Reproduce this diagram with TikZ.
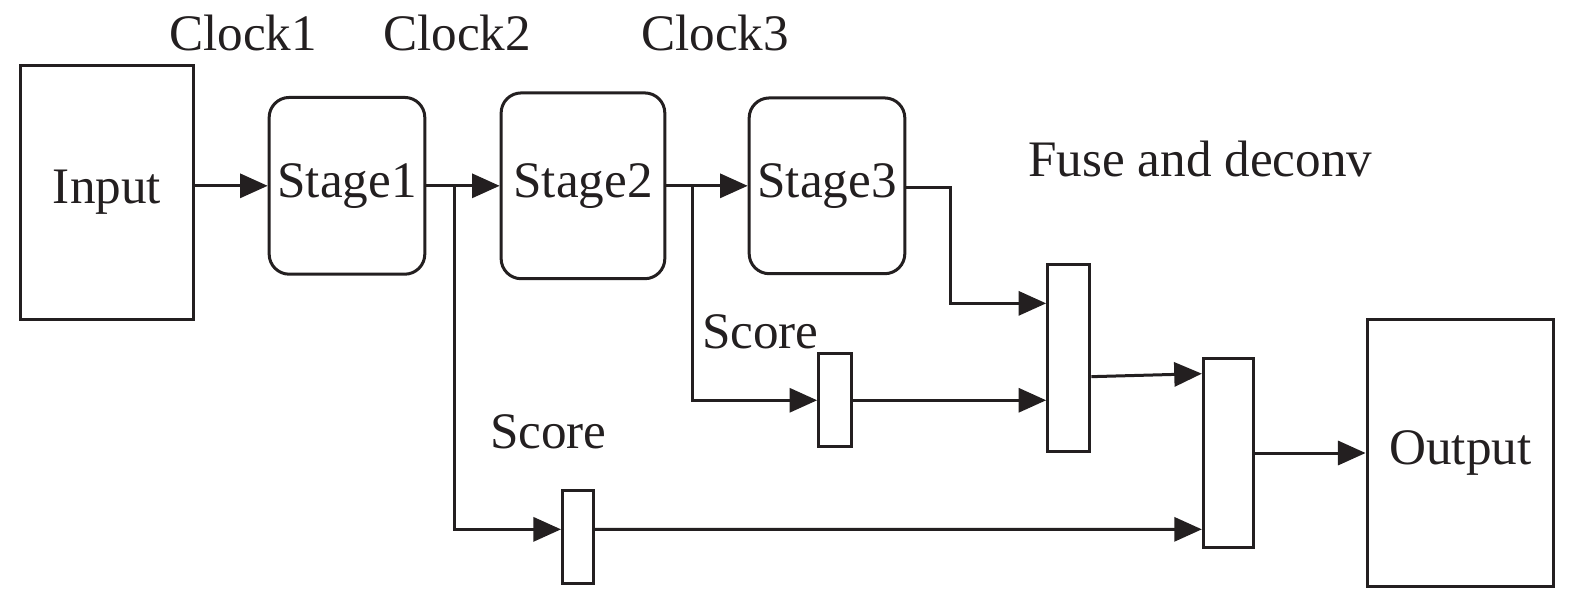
\documentclass[tikz,border=0pt]{standalone}
\usepackage{fontspec}
\setmainfont{Liberation Serif}
\usetikzlibrary{arrows.meta,positioning}
\definecolor{ink}{HTML}{231F20}

\begin{document}
\begin{tikzpicture}[
    x = 0.02cm, y = -0.02cm,
    node distance = 1.5cm,
    every node/.style = {font=\fontsize{29}{31}\selectfont, text=ink},
    block/.style = {
        rectangle,
        draw=ink,
        line width=1.7pt,
        inner sep=0pt
    },
    stagebox/.style = {
        block,
        rounded corners=0.4cm
    },
    arrow/.style = {
        -{Triangle[length=0.55cm,width=0.48cm]},
        draw=ink,
        line width=1.7pt
    }
]
\useasboundingbox (0,0) rectangle (1568,590);

\node[block, minimum width=3.46cm, minimum height=5.06cm] (input) at (106.5,191.5) {Input};
\node[stagebox, minimum width=3.1cm, minimum height=3.52cm, right=1.44cm of input, yshift=0.13cm] (stage1) {Stage1};
\node[stagebox, minimum width=3.26cm, minimum height=3.7cm, right=1.46cm of stage1] (stage2) {Stage2};
\node[stagebox, minimum width=3.1cm, minimum height=3.5cm, right=1.62cm of stage2] (stage3) {Stage3};

\node (clock1) at (242,33) {Clock1};
\node (clock2) at (455,33) {Clock2};
\node (clock3) at (712,33) {Clock3};
\node (fuselabel) at (1195,158) {Fuse and deconv};

% score branches
\node[block, minimum width=0.66cm, minimum height=1.86cm] (score2) at (831.5,398.5) {};
\node[block, minimum width=0.62cm, minimum height=1.86cm] (score1) at (575.5,534.5) {};
\node (scorelabel2) at (757,330) {Score};
\node (scorelabel1) at (546,430) {Score};

% fuse and output
\node[block, minimum width=0.84cm, minimum height=3.74cm] (fuse1) at (1064,356.5) {};
\node[block, minimum width=1.0cm, minimum height=3.76cm] (fuse2) at (1223,451) {};
\node[block, minimum width=3.72cm, minimum height=5.32cm] (output) at (1454,451) {Output};

\coordinate (tap1) at (stage1.east -| 452,0);
\coordinate (tap2) at (stage2.east -| 689,0);

\draw[arrow] (input.east |- stage1.west) -- (stage1.west);
\draw[arrow] (stage1.east) -- (stage2.west);
\draw[arrow] (stage2.east) -- (stage3.west);
\draw[arrow] (tap1) |- ([yshift=0.15cm]score1.west);
\draw[arrow] (tap2) |- (score2.west);
\draw[arrow] ([yshift=-0.03cm]stage3.east) -- ++(44,0) |- ([yshift=1.09cm]fuse1.west);
\draw[arrow] (score2.east) -- (score2.east -| fuse1.west);
\draw[arrow] ([yshift=-0.37cm]fuse1.east) -- ([yshift=1.58cm]fuse2.west);
\draw[arrow] ([yshift=0.15cm]score1.east) -- ([yshift=-1.52cm]fuse2.west);
\draw[arrow] (fuse2.east) -- (output.west);

\end{tikzpicture}
\end{document}
